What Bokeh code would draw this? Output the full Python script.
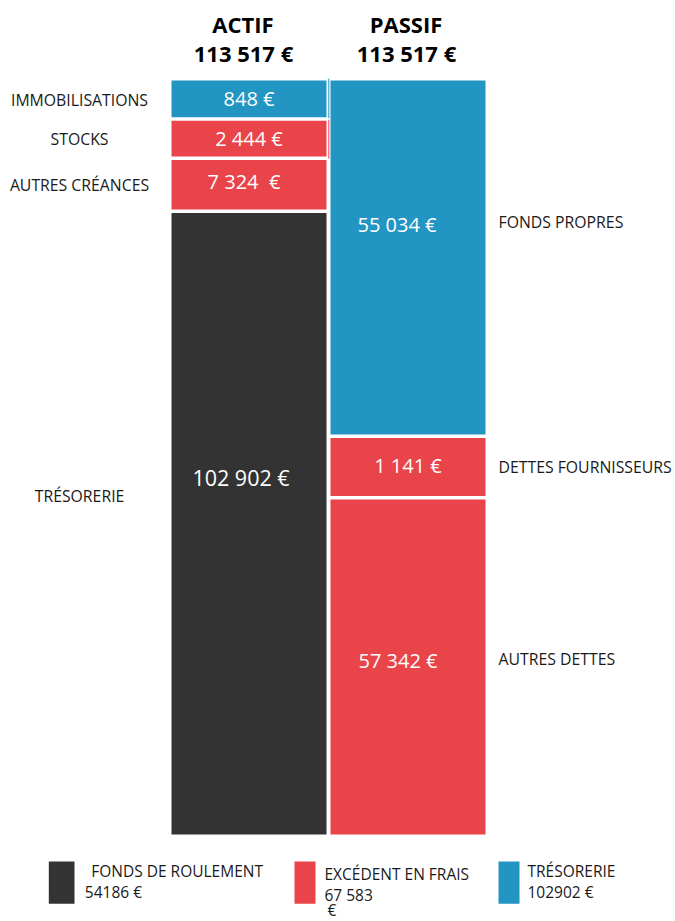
from bokeh.plotting import figure
from bokeh.models import ColumnDataSource, Range1d
from bokeh.core.properties import value
from bokeh.embed import file_html
from bokeh.resources import INLINE

FONT = "Open Sans"
DARK, RED, BLUE = "#333333", "#e8444a", "#2395c3"
INK = "#1a1a1a"

# ---------------- data ----------------
column_titles = ["ACTIF", "PASSIF"]
column_totals = ["113 517 €", "113 517 €"]

actif_labels = ["IMMOBILISATIONS", "STOCKS", "AUTRES CRÉANCES", "TRÉSORERIE"]
actif_amounts = ["848 €", "2 444 €", "7 324 \u00a0€", "102 902 €"]
actif_shares = [5.3, 5.2, 7.0, 82.5]          # displayed share of column height (%)
actif_colors = [BLUE, RED, RED, DARK]

passif_labels = ["FONDS PROPRES", "DETTES FOURNISSEURS", "AUTRES DETTES"]
passif_amounts = ["55 034 €", "1 141 €", "57 342 €"]
passif_shares = [47.2, 8.1, 44.7]             # displayed share of column height (%)
passif_colors = [BLUE, RED, RED]

legend_titles = ["FONDS DE ROULEMENT", "EXCÉDENT EN FRAIS", "TRÉSORERIE"]
legend_amounts = ["54186 €", "67 583\n€", "102902 €"]
legend_colors = [DARK, RED, BLUE]

# ---------------- layout ----------------
W, H = 675, 921
COL_TOP, COL_BOTTOM = 78.25, 835.75
GAP = 3.5
ACTIF_X = (171, 326)
PASSIF_X = (330, 485)

# label offsets relative to segment centres
actif_value_dx = [0, 0, -5, -8]
actif_value_dy = [0, 0, -3, -46]
actif_side_dy = [1, 0, 0, -28]
passif_value_dx = [-11, 0, -10]
passif_value_dy = [-33, -1, -6]
passif_side_dy = [-36, 0, -8]

p = figure(width=W, height=H, x_range=Range1d(0, W), y_range=Range1d(H, 0),
           output_backend="svg", toolbar_location=None, min_border=0,
           x_axis_location=None, y_axis_location=None)
p.grid.visible = False
p.outline_line_color = None
p.background_fill_color = "white"
p.border_fill_color = "white"


def stack(shares):
    total = sum(shares)
    span = COL_BOTTOM - COL_TOP
    edges = [COL_TOP]
    acc = 0.0
    for s in shares:
        acc += s
        edges.append(COL_TOP + span * acc / total)
    tops = [edges[i] + GAP / 2 for i in range(len(shares))]
    bottoms = [edges[i + 1] - GAP / 2 for i in range(len(shares))]
    return tops, bottoms


def draw_column(shares, colors, amounts, xr, vdx, vdy):
    tops, bottoms = stack(shares)
    n = len(shares)
    src = ColumnDataSource(dict(left=[xr[0]] * n, right=[xr[1]] * n,
                                top=tops, bottom=bottoms, color=colors))
    p.quad(left="left", right="right", top="top", bottom="bottom", source=src,
           fill_color="color", line_color=None)
    cx = (xr[0] + xr[1]) / 2
    centers = [(t + b) / 2 for t, b in zip(tops, bottoms)]
    vsrc = ColumnDataSource(dict(
        x=[cx + d for d in vdx],
        y=[c + d for c, d in zip(centers, vdy)],
        text=amounts,
        size=["21.5px" if s > 50 else "20px" for s in shares]))
    p.text(x="x", y="y", text="text", source=vsrc, text_color="white",
           text_font=value(FONT), text_font_size="size",
           text_align="center", text_baseline="middle")
    return tops, bottoms, centers


a_tops, a_bottoms, a_centers = draw_column(actif_shares, actif_colors, actif_amounts,
                                           ACTIF_X, actif_value_dx, actif_value_dy)
p_tops, p_bottoms, p_centers = draw_column(passif_shares, passif_colors, passif_amounts,
                                           PASSIF_X, passif_value_dx, passif_value_dy)

# thin separators next to the first two asset blocks
p.segment(x0=[328.3, 328.3], x1=[328.3, 328.3],
          y0=[a_tops[0] - 2, a_tops[1] - 1], y1=[a_bottoms[0] + 1, a_bottoms[1] + 2],
          line_color=actif_colors[:2], line_width=1)

# side labels
p.text(x=[79] * len(actif_labels), y=[c + d for c, d in zip(a_centers, actif_side_dy)],
       text=actif_labels, text_color=INK, text_font=value(FONT), text_font_size="15.8px",
       text_align="center", text_baseline="middle")
p.text(x=[498] * len(passif_labels), y=[c + d for c, d in zip(p_centers, passif_side_dy)],
       text=passif_labels, text_color=INK, text_font=value(FONT), text_font_size="15.8px",
       text_align="left", text_baseline="middle")

# column headers
col_cx = [(ACTIF_X[0] + ACTIF_X[1]) / 2 - 6, (PASSIF_X[0] + PASSIF_X[1]) / 2 - 2]
p.text(x=col_cx, y=[23, 23], text=column_titles, text_color="black",
       text_font=value(FONT), text_font_size="22px", text_font_style="bold",
       text_align="center", text_baseline="middle")
p.text(x=[c + 0.5 for c in col_cx], y=[52, 52], text=column_totals, text_color="black",
       text_font=value(FONT), text_font_size="22px", text_font_style="bold",
       text_align="center", text_baseline="middle")

# legend
sq_left = [48.3, 294, 498]
sq_w = [25.7, 21, 21]
title_x = [90.7, 324, 527]
amount_x = [84.3, 324, 527]
amount_y = [891.7, 894.5, 891.3]
LINE_STEP = 15
p.quad(left=sq_left, right=[l + w for l, w in zip(sq_left, sq_w)],
       top=[861] * 3, bottom=[903.3] * 3, fill_color=legend_colors, line_color=None)
p.text(x=title_x, y=[870.7, 873, 870.7], text=legend_titles, text_color=INK,
       text_font=value(FONT), text_font_size="15.5px",
       text_align="left", text_baseline="middle")
lx, ly, lt = [], [], []
for x, y, txt in zip(amount_x, amount_y, legend_amounts):
    for k, line in enumerate(txt.split("\n")):
        lx.append(x + (3 if k else 0))
        ly.append(y + k * LINE_STEP)
        lt.append(line)
p.text(x=lx, y=ly, text=lt, text_color=INK,
       text_font=value(FONT), text_font_size="15.5px",
       text_align="left", text_baseline="middle")

open("out.html", "w").write(file_html(p, INLINE))
